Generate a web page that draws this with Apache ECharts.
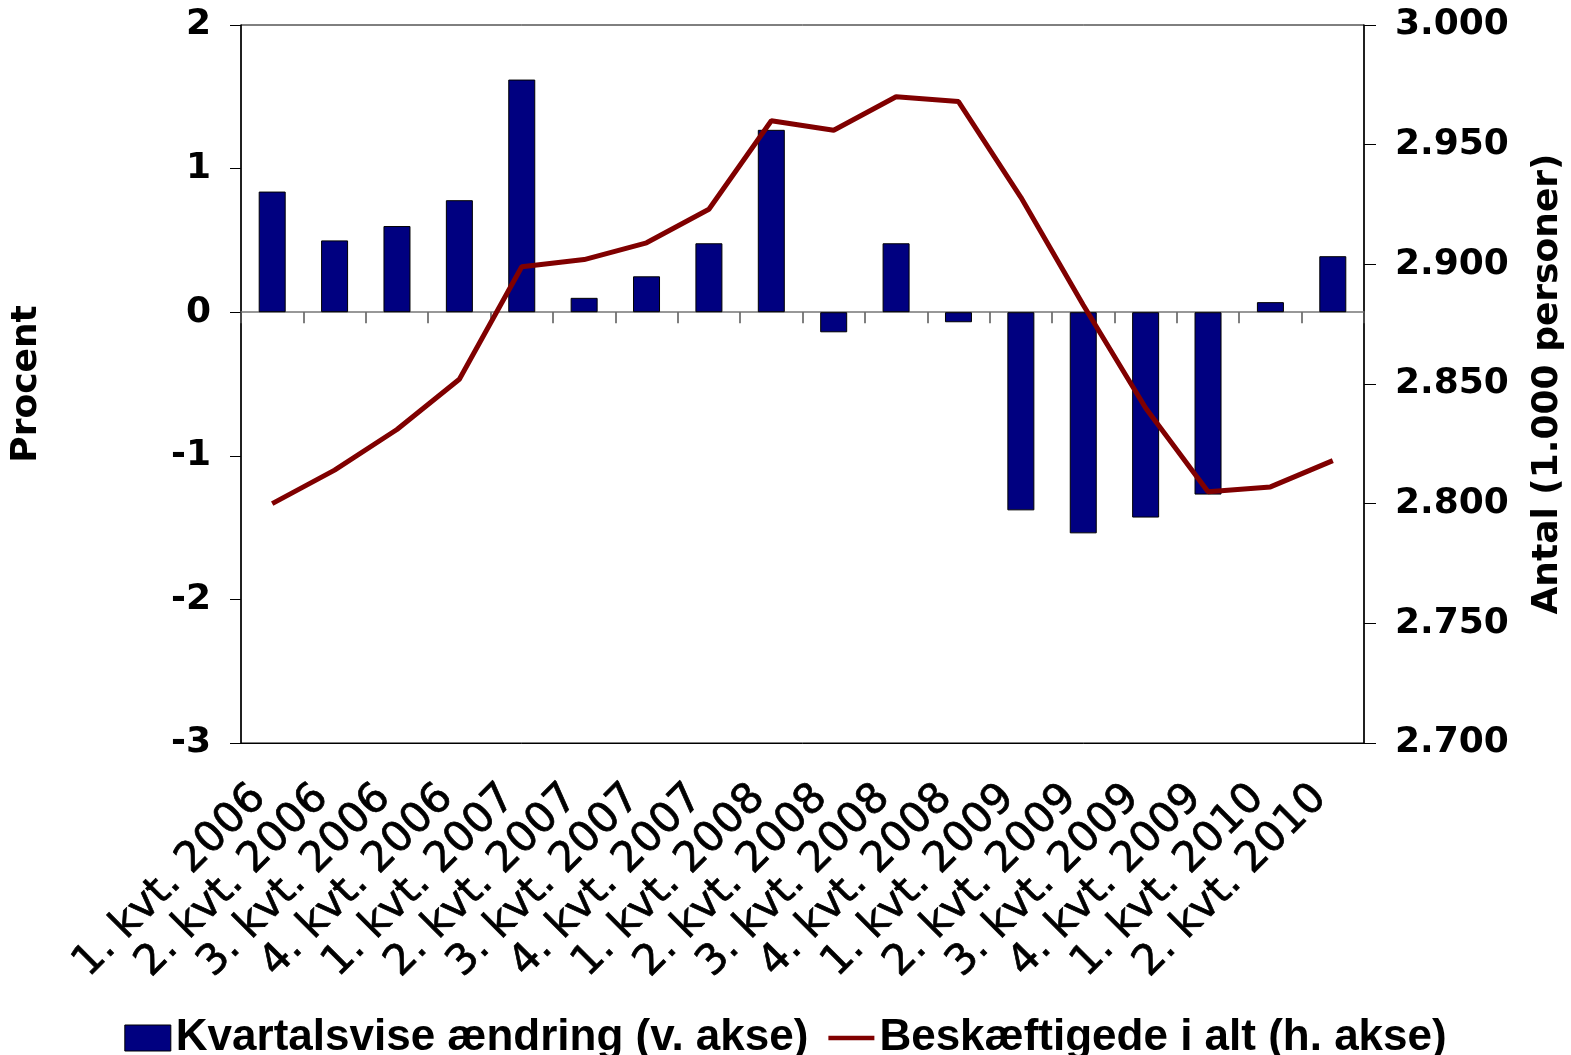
<!DOCTYPE html>
<html>
<head>
<meta charset="utf-8">
<script src="https://cdn.jsdelivr.net/npm/echarts@6/dist/echarts.min.js"></script>
<style>
html,body{margin:0;padding:0;background:#fff;}
#chart{width:1571px;height:1055px;}
</style>
</head>
<body>
<div id="chart"></div>
<script>
const categories = ['1. kvt. 2006','2. kvt. 2006','3. kvt. 2006','4. kvt. 2006',
  '1. kvt. 2007','2. kvt. 2007','3. kvt. 2007','4. kvt. 2007',
  '1. kvt. 2008','2. kvt. 2008','3. kvt. 2008','4. kvt. 2008',
  '1. kvt. 2009','2. kvt. 2009','3. kvt. 2009','4. kvt. 2009',
  '1. kvt. 2010','2. kvt. 2010'];
const kvartalsviseAendring = [0.84, 0.50, 0.60, 0.78, 1.62, 0.10, 0.25, 0.48, 1.27, -0.14, 0.48, -0.07, -1.38, -1.54, -1.43, -1.27, 0.07, 0.39];
const beskaeftigede = [2800, 2814, 2831, 2852, 2899, 2902, 2909, 2923, 2960, 2956, 2970, 2968, 2928, 2883, 2840, 2805, 2807, 2818];
const seriesNames = ['Kvartalsvise ændring (v. akse)', 'Beskæftigede i alt (h. akse)'];
const leftTicks = {min: -3, max: 2, interval: 1};
const rightTicks = {min: 2700, max: 3000, interval: 50};

const chart = echarts.init(document.getElementById('chart'), null, {renderer: 'canvas'});
const axisFont = {fontFamily: 'DejaVu Sans', fontWeight: 'bold', fontSize: 36, color: '#000'};
function thousands(v){ return String(v).replace(/\B(?=(\d{3})+(?!\d))/g, '.'); }

chart.setOption({
  animation: false,
  backgroundColor: '#fff',
  grid: {left: 241, top: 25, width: 1123, height: 718, show: true, borderColor: '#000', borderWidth: 1,
    containLabel: false, outerBoundsMode: 'none'},
  legend: {
    left: 'center', top: 1011,
    itemWidth: 46, itemHeight: 26, itemGap: 20, symbolKeepAspect: true,
    textStyle: {fontFamily: 'Liberation Sans', fontWeight: 'bold', fontSize: 44, color: '#000'},
    data: [
      {name: seriesNames[0], icon: 'rect', itemStyle: {color: '#000080', borderColor: '#000', borderWidth: 1}},
      {name: seriesNames[1], icon: 'path://M0,0L50,0L50,5L0,5Z', itemStyle: {color: '#800000', borderWidth: 0}}
    ]
  },
  xAxis: [
    {
      type: 'category', data: categories, position: 'bottom',
      axisLine: {show: true, onZero: true, onZeroAxisIndex: 0, lineStyle: {color: '#777', width: 1.5}},
      axisTick: {show: true, inside: false, interval: 0, length: 11, lineStyle: {color: '#555', width: 1.5}},
      axisLabel: {show: false},
      splitLine: {show: false}
    },
    {
      type: 'category', data: categories, position: 'bottom',
      axisLine: {show: true, onZero: false, lineStyle: {color: '#000', width: 1}},
      axisTick: {show: false},
      axisLabel: {show: true, rotate: 45, margin: 36, interval: 0, padding: [0, 18, 0, 0],
        fontFamily: 'DejaVu Sans', fontSize: 42, color: '#000', textBorderColor: '#000', textBorderWidth: 0.7},
      splitLine: {show: false}
    }
  ],
  yAxis: [
    {
      type: 'value', min: leftTicks.min, max: leftTicks.max, interval: leftTicks.interval, position: 'left',
      name: 'Procent', nameLocation: 'middle', nameGap: 196, nameRotate: 90,
      nameTextStyle: axisFont,
      axisLine: {show: true, lineStyle: {color: '#000', width: 1.5}},
      axisTick: {show: true, inside: false, length: 11, lineStyle: {color: '#000'}},
      axisLabel: Object.assign({margin: 30}, axisFont),
      splitLine: {show: false}
    },
    {
      type: 'value', min: rightTicks.min, max: rightTicks.max, interval: rightTicks.interval, position: 'right',
      name: 'Antal (1.000 personer)', nameLocation: 'middle', nameGap: 166, nameRotate: 90,
      nameTextStyle: axisFont,
      axisLine: {show: true, lineStyle: {color: '#000', width: 1.5}},
      axisTick: {show: true, inside: false, length: 12, lineStyle: {color: '#000'}},
      axisLabel: Object.assign({margin: 31, formatter: thousands}, axisFont),
      splitLine: {show: false}
    }
  ],
  series: [
    {
      name: seriesNames[0], type: 'bar', xAxisIndex: 0, yAxisIndex: 0,
      data: kvartalsviseAendring, barWidth: 27,
      itemStyle: {color: '#000080', borderColor: '#000', borderWidth: 1}
    },
    {
      name: seriesNames[1], type: 'line', xAxisIndex: 0, yAxisIndex: 1,
      data: beskaeftigede, symbol: 'none', z: 5,
      lineStyle: {color: '#800000', width: 5},
      itemStyle: {color: '#800000'}
    }
  ]
});
</script>
</body>
</html>
